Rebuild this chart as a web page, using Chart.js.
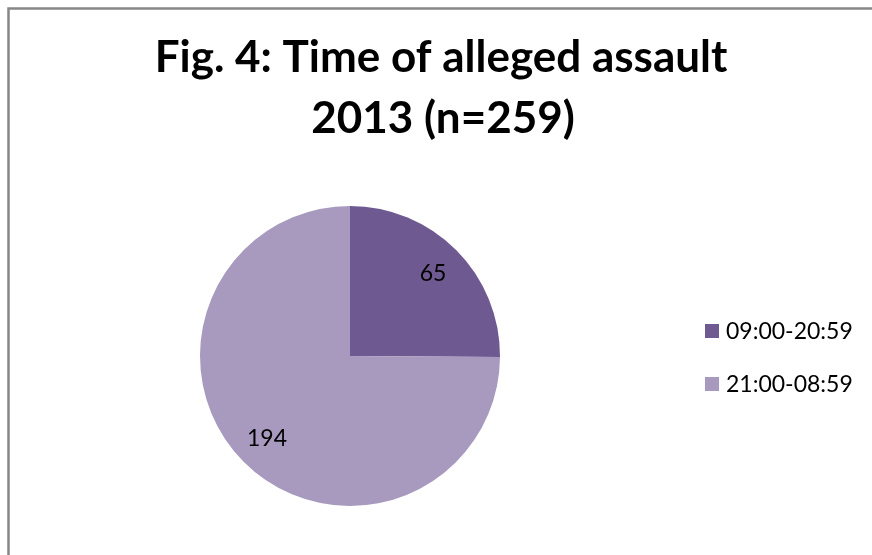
<!DOCTYPE html>
<html>
<head>
<meta charset="utf-8">
<script src="https://cdn.jsdelivr.net/npm/chart.js@4.4.1/dist/chart.umd.min.js"></script>
<style>
  html, body { margin: 0; padding: 0; overflow: hidden; background: #ffffff; }
  canvas { display: block; }
</style>
</head>
<body>
<canvas id="chart" width="872" height="555"></canvas>
<script>
// Chart text and data
const titleLines = ['Fig. 4: Time of alleged assault', '2013 (n=259)'];
const categories = ['09:00-20:59', '21:00-08:59'];
const counts = [65, 194];
const sliceColors = ['#6F5991', '#A899BF'];

const FONT = 'Lato, "Open Sans", sans-serif';

// Outer frame of the chart (left and top edges fall inside the canvas)
const frame = {
  id: 'frame',
  beforeDraw(chart) {
    const ctx = chart.ctx;
    ctx.save();
    ctx.fillStyle = '#ffffff';
    ctx.fillRect(0, 0, chart.width, chart.height);
    ctx.strokeStyle = '#878787';
    ctx.lineWidth = 2.5;
    ctx.beginPath();
    ctx.moveTo(8.5, chart.height);
    ctx.lineTo(8.5, 8.5);
    ctx.lineTo(chart.width, 8.5);
    ctx.stroke();
    ctx.restore();
  }
};

// Draws the heading, the legend on the right and the value inside each slice
const decorations = {
  id: 'decorations',
  afterDraw(chart) {
    const ctx = chart.ctx;
    ctx.save();
    ctx.fillStyle = '#000000';

    // heading
    ctx.font = 'bold 44px ' + FONT;
    ctx.textAlign = 'center';
    ctx.textBaseline = 'alphabetic';
    ctx.fillText(titleLines[0], 441, 72);
    ctx.fillText(titleLines[1], 443, 133);

    // legend
    ctx.font = '23px ' + FONT;
    ctx.textAlign = 'left';
    ctx.textBaseline = 'middle';
    const rows = [331, 384];
    categories.forEach((name, i) => {
      ctx.fillStyle = sliceColors[i];
      ctx.fillRect(705, rows[i] - 7, 14, 14);
      ctx.fillStyle = '#000000';
      ctx.fillText(name, 726, rows[i] + 1);
    });

    // slice values
    const meta = chart.getDatasetMeta(0);
    ctx.textAlign = 'center';
    ctx.font = '23px ' + FONT;
    meta.data.forEach((arc, i) => {
      const p = arc.getProps(['x', 'y', 'startAngle', 'endAngle', 'outerRadius'], true);
      const mid = (p.startAngle + p.endAngle) / 2;
      const r = p.outerRadius * 0.78;
      ctx.fillText(String(counts[i]), p.x + Math.cos(mid) * r, p.y + Math.sin(mid) * r);
    });
    ctx.restore();
  }
};

new Chart(document.getElementById('chart'), {
  type: 'pie',
  data: {
    labels: categories,
    datasets: [{
      data: counts,
      backgroundColor: sliceColors,
      borderWidth: 0
    }]
  },
  options: {
    responsive: false,
    animation: false,
    layout: { padding: { left: 200, right: 372, top: 206, bottom: 49 } },
    plugins: {
      legend: { display: false },
      title: { display: false },
      tooltip: { enabled: false }
    }
  },
  plugins: [frame, decorations]
});
</script>
</body>
</html>
